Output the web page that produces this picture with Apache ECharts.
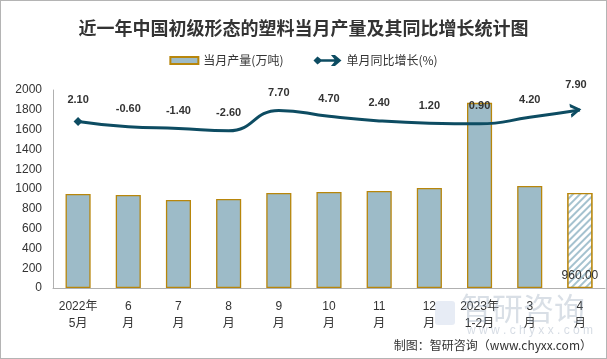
<!DOCTYPE html>
<html><head><meta charset="utf-8">
<script src="https://cdn.jsdelivr.net/npm/echarts@6/dist/echarts.min.js"></script>
<style>
html,body{margin:0;padding:0;background:#fff;}
#box{width:607px;height:359px;box-sizing:border-box;border:1px solid #b4b4b4;}
#chart{width:605px;height:357px;}
</style></head>
<body><div id="box"><div id="chart"></div></div>
<script>
const title = '近一年中国初级形态的塑料当月产量及其同比增长统计图';
const categories = ['2022年\n5月','6\n月','7\n月','8\n月','9\n月','10\n月','11\n月','12\n月','2023年\n1-2月','3\n月','4\n月'];
const output = [950, 940, 890, 900, 960, 970, 980, 1010, 1870, 1030, 960];
const growth = [2.10, -0.60, -1.40, -2.60, 7.70, 4.70, 2.40, 1.20, 0.90, 4.20, 7.90];
const yTicks = {min: 0, max: 2000, interval: 200};
const seriesNames = ['当月产量(万吨)', '单月同比增长(%)'];
const footer = '制图：智研咨询（www.chyxx.com）';

const FONT = "'Liberation Sans','Noto Sans CJK SC',sans-serif";
const barColor = '#9dbbc8';
const barBorder = '#b8860b';
const lineColor = '#0d4c62';

const barData = output.map((v, i) => {
  if (i === output.length - 1) {
    return {
      value: v,
      itemStyle: {
        color: '#ffffff',
        decal: {symbol: 'rect', symbolSize: 1, dashArrayX: [1, 0], dashArrayY: [2, 3], rotation: -Math.PI / 4, color: '#a5c2cf', backgroundColor: '#ffffff'}
      },
      label: {show: true, position: 'insideBottom', distance: 6, formatter: p => p.value.toFixed(2), color: '#333', fontSize: 12, fontFamily: FONT}
    };
  }
  return v;
});

const lineData = growth.map((v, i) => {
  if (i === 0) return {value: v, symbol: 'diamond', symbolSize: 9};
  if (i === growth.length - 1) return {value: v, symbol: 'path://M0,0 L12,7 L0,14 L0,10.5 L6.5,7 L0,3.5 Z', symbolSize: [11, 14], symbolOffset: [-4, 0], symbolRotate: 8};
  return {value: v, symbol: 'circle', symbolSize: 0.01, itemStyle: {opacity: 0}};
});

const chart = echarts.init(document.getElementById('chart'));
chart.setOption({
  animation: false,
  textStyle: {fontFamily: FONT},
  title: {text: title, left: 'center', top: 13, textStyle: {fontSize: 18, fontWeight: 'bold', color: '#333', fontFamily: "'Noto Sans CJK SC',serif"}},
  legend: {
    top: 48, left: 'center', itemGap: 30, itemWidth: 28, itemHeight: 11,
    textStyle: {fontSize: 12, color: '#333', fontFamily: "'Noto Sans CJK SC',sans-serif"},
    data: [
      {name: seriesNames[0], icon: 'path://M0,0 M0,2 L28,2 L28,9 L0,9 Z M28,11'},
      {name: seriesNames[1], icon: 'path://M0,5.5 L4,1.5 L7.5,4.2 L21,4.2 L17.5,0 L21.5,0 L28,5.5 L21.5,11 L17.5,11 L21,6.8 L7.5,6.8 L4,9.5 Z'}
    ]
  },
  grid: {left: 52, right: 1, top: 89, bottom: 70},
  xAxis: {
    type: 'category', data: categories,
    axisLine: {lineStyle: {color: '#b0b0b0'}},
    axisTick: {show: false},
    axisLabel: {interval: 0, color: '#333', fontSize: 12, lineHeight: 17, margin: 10}
  },
  yAxis: [
    {type: 'value', min: yTicks.min, max: yTicks.max, interval: yTicks.interval,
     axisLine: {show: true, lineStyle: {color: '#b0b0b0'}}, axisTick: {show: false},
     splitLine: {show: false}, axisLabel: {color: '#333', fontSize: 12, margin: 11, formatter: v => String(v)}},
    {type: 'value', min: -82, max: 18, show: false, splitLine: {show: false}}
  ],
  series: [
    {name: seriesNames[0], type: 'bar', data: barData, barWidth: '50%',
     itemStyle: {color: barColor, borderColor: barBorder, borderWidth: 1.3}, z: 2},
    {name: seriesNames[1], type: 'line', yAxisIndex: 1, data: lineData, smooth: 0.5, showSymbol: true,
     lineStyle: {color: lineColor, width: 3}, itemStyle: {color: lineColor},
     label: {show: true, position: 'top', distance: 12, fontSize: 11, fontWeight: 'bold', color: '#333', opacity: 1, formatter: p => p.value.toFixed(2)},
     labelLayout: {hideOverlap: false},
     z: 5}
  ],
  graphic: [
    {type: 'text', right: 14, top: 338, style: {text: footer, fontSize: 12, fill: '#333', fontFamily: "'Noto Sans CJK SC',sans-serif"}, z: 10},
    {type: 'text', left: 460, top: 292, style: {text: '智研咨询', fontSize: 31, fill: 'rgba(120,140,165,0.28)', fontFamily: "'Noto Sans CJK SC',sans-serif"}, z: 9},
    {type: 'text', left: 466, top: 324, style: {text: 'w w w . c h y x x . c o m', fontSize: 12, fill: 'rgba(120,140,165,0.3)'}, z: 9},
    {type: 'rect', left: 434, top: 300, shape: {width: 20, height: 24, r: 3}, style: {fill: 'rgba(120,150,200,0.18)'}, z: 9}
  ]
});
</script></body></html>
